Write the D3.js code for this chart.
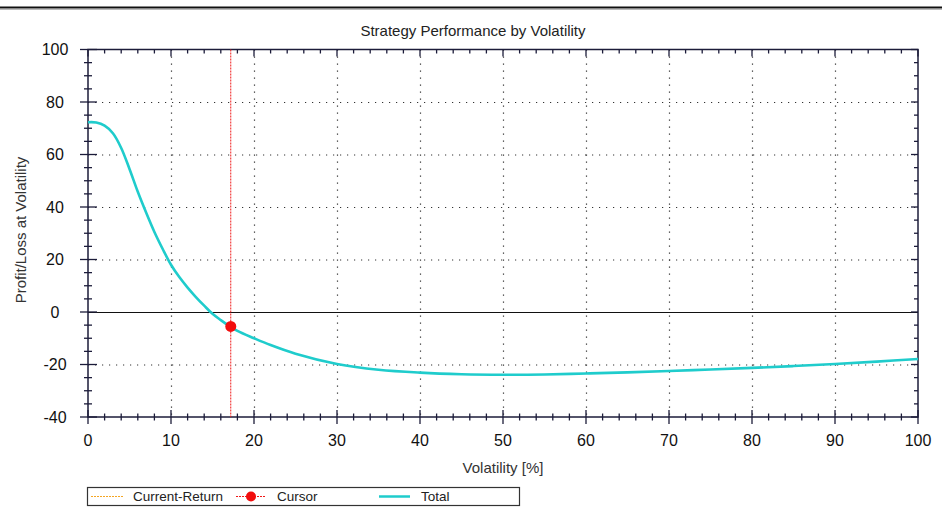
<!DOCTYPE html>
<html><head><meta charset="utf-8">
<script src="https://cdn.jsdelivr.net/npm/d3@7"></script>
<style>
body{margin:0;background:#fff;}
svg text{font-family:"Liberation Sans",Arial,sans-serif;}
</style></head>
<body><svg id="chart" width="942" height="513"></svg>
<script>
const volatility = [0,1,2,3,4,5,6,7,8,9,10,11,12,13,14,15,16,17,18,20,22,25,30,35,40,45,50,55,60,65,70,75,80,85,90,95,100];
const totalPL = [72.3,72.2,71.0,68.1,62.5,54.5,45.8,37.9,30.5,24,18,13.3,9.3,5.7,2.4,-0.7,-3.1,-5.3,-7.2,-10,-12.6,-15.9,-19.8,-22,-23.1,-23.7,-23.9,-23.8,-23.4,-23,-22.5,-21.9,-21.3,-20.6,-19.8,-18.9,-17.9];
const cursorPoint = {x:17.2, y:-5.5};
const xTicks = [0,10,20,30,40,50,60,70,80,90,100];
const yTicks = [-40,-20,0,20,40,60,80,100];
const legendItems = ["Current-Return","Cursor","Total"];
const title = "Strategy Performance by Volatility";
const xLabel = "Volatility [%]";
const yLabel = "Profit/Loss at Volatility";

const svg = d3.select("#chart");
const L=88, R=918, T=49.5, B=417;
const x = d3.scaleLinear().domain([0,100]).range([L,R]);
const y = d3.scaleLinear().domain([-40,100]).range([B,T]);
const axisCol = "#1c1c3a";
const teal = "#1fcccc";

// top frame line
svg.append("line").attr("x1",0).attr("x2",942).attr("y1",7.5).attr("y2",7.5).attr("stroke","#111").attr("stroke-width",2);
svg.append("line").attr("x1",0).attr("x2",942).attr("y1",9.5).attr("y2",9.5).attr("stroke","#bbb").attr("stroke-width",1);

// title
svg.append("text").attr("x",473).attr("y",36).attr("text-anchor","middle").attr("font-size",15).attr("fill","#222").text(title);

// grid
const g = svg.append("g");
xTicks.filter(d=>d>0&&d<100).forEach(d=>{
  g.append("line").attr("x1",x(d)+0.5).attr("x2",x(d)+0.5).attr("y1",T).attr("y2",B)
   .attr("stroke","#333").attr("stroke-width",1.2).attr("stroke-dasharray","1.2,5.8");
});
yTicks.filter(d=>d>-40&&d<100&&d!==0).forEach(d=>{
  g.append("line").attr("x1",L).attr("x2",R).attr("y1",y(d)+0.5).attr("y2",y(d)+0.5)
   .attr("stroke","#333").attr("stroke-width",1.2).attr("stroke-dasharray","1.2,5.8");
});
// zero line
g.append("line").attr("x1",L).attr("x2",R).attr("y1",y(0)+0.5).attr("y2",y(0)+0.5).attr("stroke","#111").attr("stroke-width",1);

// frame
svg.append("rect").attr("x",L).attr("y",T).attr("width",R-L).attr("height",B-T).attr("fill","none").attr("stroke",axisCol).attr("stroke-width",1.5);

// ticks
const xMinor = d3.range(0,101,2);
const yMinor = d3.range(-40,101,5);
const tk = svg.append("g").attr("stroke",axisCol).attr("stroke-width",1.3);
xMinor.forEach(d=>{
  const major = d%10===0;
  tk.append("line").attr("x1",x(d)).attr("x2",x(d)).attr("y1",B-(major?7:3.5)).attr("y2",B+(major?7:3.5));
  tk.append("line").attr("x1",x(d)).attr("x2",x(d)).attr("y1",T).attr("y2",T+(major?7:4));
});
yMinor.forEach(d=>{
  const major = d%20===0;
  tk.append("line").attr("x1",L-(major?8:4)).attr("x2",L+(major?9:4)).attr("y1",y(d)).attr("y2",y(d));
  tk.append("line").attr("x1",R-(major?7:4)).attr("x2",R).attr("y1",y(d)).attr("y2",y(d));
});

// tick labels
xTicks.forEach(d=>{
  svg.append("text").attr("x",x(d)).attr("y",446).attr("text-anchor","middle").attr("font-size",16).attr("fill","#111").text(d);
});
yTicks.forEach(d=>{
  svg.append("text").attr("x",55).attr("y",y(d)+5.5).attr("text-anchor","middle").attr("font-size",16).attr("fill","#111").text(d);
});

// axis labels
svg.append("text").attr("x",503).attr("y",473).attr("text-anchor","middle").attr("font-size",15).attr("fill","#333").text(xLabel);
svg.append("text").attr("transform","translate(26,230) rotate(-90)").attr("text-anchor","middle").attr("font-size",15).attr("fill","#333").text(yLabel);

// cursor vertical line
svg.append("line").attr("x1",x(cursorPoint.x)).attr("x2",x(cursorPoint.x)).attr("y1",T).attr("y2",B)
  .attr("stroke","#f01818").attr("stroke-width",1).attr("stroke-dasharray","2,1");

// curve
const data = volatility.map((v,i)=>({x:v,y:totalPL[i]}));
svg.append("path").datum(data).attr("fill","none").attr("stroke",teal).attr("stroke-width",2.6)
  .attr("d",d3.line().x(d=>x(d.x)).y(d=>y(d.y)).curve(d3.curveCatmullRom.alpha(0.5)));

// cursor point
svg.append("circle").attr("cx",x(cursorPoint.x)).attr("cy",y(cursorPoint.y)).attr("r",5.5).attr("fill","#f20d0d");

// legend
const lg = svg.append("g");
lg.append("rect").attr("x",87.5).attr("y",487.5).attr("width",432).attr("height",18).attr("fill","#fff").attr("stroke","#333").attr("stroke-width",1.2);
lg.append("line").attr("x1",91).attr("x2",123).attr("y1",496.5).attr("y2",496.5).attr("stroke","#f5a623").attr("stroke-width",1).attr("stroke-dasharray","2,1");
lg.append("text").attr("x",133).attr("y",501).attr("font-size",13.5).attr("fill","#222").text(legendItems[0]);
lg.append("line").attr("x1",236).attr("x2",266).attr("y1",496.5).attr("y2",496.5).attr("stroke","#f01818").attr("stroke-width",1).attr("stroke-dasharray","2,1");
lg.append("circle").attr("cx",251).attr("cy",496.5).attr("r",5).attr("fill","#f20d0d");
lg.append("text").attr("x",277).attr("y",501).attr("font-size",13.5).attr("fill","#222").text(legendItems[1]);
lg.append("line").attr("x1",379).attr("x2",410).attr("y1",496.5).attr("y2",496.5).attr("stroke",teal).attr("stroke-width",2.5);
lg.append("text").attr("x",421).attr("y",501).attr("font-size",13.5).attr("fill","#222").text(legendItems[2]);
</script></body></html>
